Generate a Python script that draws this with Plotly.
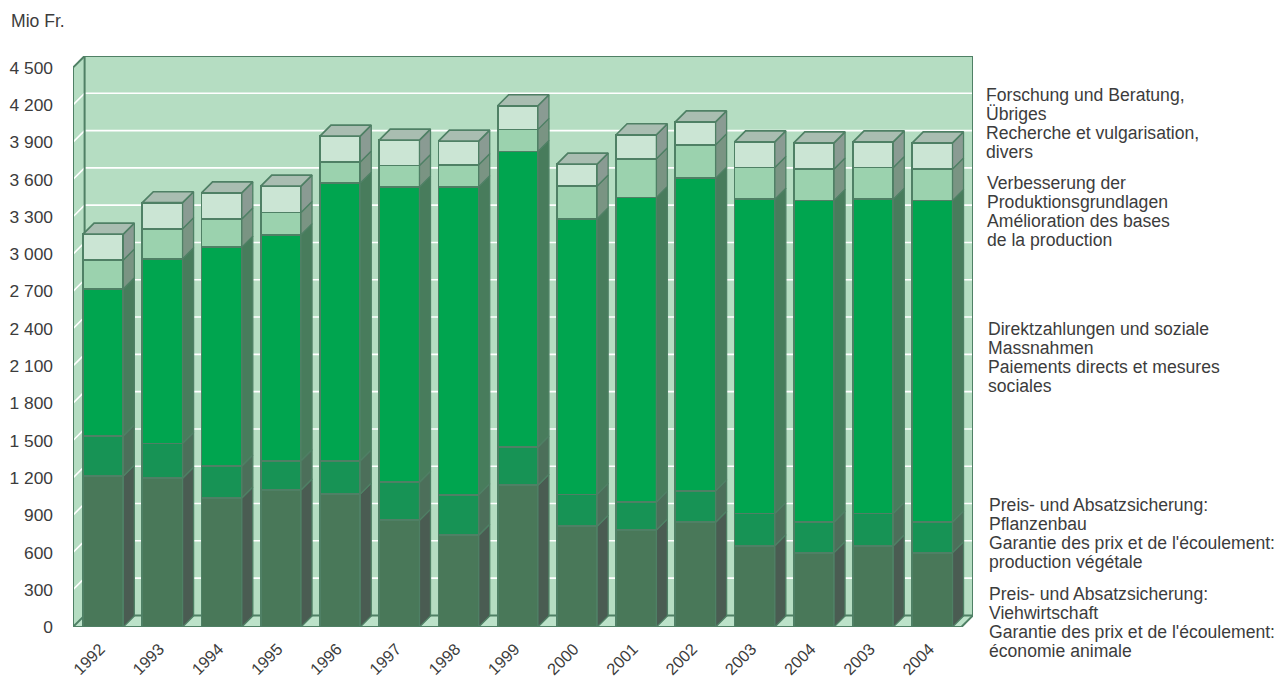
import plotly.graph_objects as go

# Budget categories along the horizontal axis
years = ["1992", "1993", "1994", "1995", "1996", "1997", "1998", "1999",
         "2000", "2001", "2002", "2003", "2004", "2003", "2004"]

# Spending per category in Mio Fr., bottom of the stack first
viehwirtschaft = [1215, 1196, 1038, 1102, 1070, 858, 738, 1140, 810, 780, 842, 654, 598, 654, 598]
pflanzenbau = [324, 281, 257, 236, 268, 306, 326, 308, 257, 225, 254, 260, 247, 260, 247]
direktzahlungen = [1182, 1485, 1761, 1817, 2233, 2375, 2477, 2378, 2217, 2451, 2515, 2528, 2587, 2528, 2587]
verbesserung = [231, 242, 226, 180, 169, 174, 177, 177, 263, 311, 268, 255, 252, 255, 252]
forschung = [209, 209, 211, 212, 209, 204, 191, 190, 177, 193, 185, 206, 211, 206, 211]

series = [viehwirtschaft, pflanzenbau, direktzahlungen, verbesserung, forschung]
series_names = ["Viehwirtschaft", "Pflanzenbau", "Direktzahlungen", "Verbesserung", "Forschung"]
front_colors = ["#497859", "#179355", "#00A54F", "#9BD2AE", "#CBE5D4"]
side_colors = ["#4A5C52", "#4C6F5A", "#487C5C", "#7A9483", "#8A9B93"]
top_color = "#A9BDB1"

y_ticks = list(range(0, 4501, 300))
y_labels = [f"{v:,}".replace(",", " ") for v in y_ticks]

legend_blocks = [
    (985, 95, ["Forschung und Beratung,", "Übriges", "Recherche et vulgarisation,", "divers"]),
    (986, 183, ["Verbesserung der", "Produktionsgrundlagen", "Amélioration des bases", "de la production"]),
    (987, 329, ["Direktzahlungen und soziale", "Massnahmen", "Paiements directs et mesures", "sociales"]),
    (988, 505, ["Preis- und Absatzsicherung:", "Pflanzenbau", "Garantie des prix et de l'écoulement:", "production végétale"]),
    (988, 594, ["Preis- und Absatzsicherung:", "Viehwirtschaft", "Garantie des prix et de l'écoulement:", "économie animale"]),
]

# Canvas and plot box in pixels; the axis ranges follow from the scales below
WIDTH, HEIGHT = 1279, 679
LEFT, RIGHT_EDGE, TOP, BOTTOM_EDGE = 73.3, 973, 56, 627
PX_PER_CATEGORY = 59.2
PX_PER_VALUE = 0.12433
WALL_DEPTH_PX = 11.6
BAR_DEPTH_PX = 11
BAR_WIDTH = 0.68
TEXT_COLOR = "#3C3C3C"
EDGE_COLOR = "#4F8065"
WALL_COLOR = "#B5DDC2"
FONT = "Liberation Sans, Arial, sans-serif"
LABEL_SIZE = 17.6
TICK_SIZE = 17.4
YEAR_SIZE = 16.4

n = len(years)
wall_dx = WALL_DEPTH_PX / PX_PER_CATEGORY
wall_dy = WALL_DEPTH_PX / PX_PER_VALUE
bar_dx = BAR_DEPTH_PX / PX_PER_CATEGORY
bar_dy = BAR_DEPTH_PX / PX_PER_VALUE
y_max = y_ticks[-1]
centers = [i + 0.51 for i in range(n)]


def poly_path(points):
    return "M " + " L ".join(f"{x},{y}" for x, y in points) + " Z"


def wall_shape(points, fill=WALL_COLOR):
    return dict(type="path", path=poly_path(points), xref="x", yref="y", layer="below",
                fillcolor=fill, line=dict(width=0))


def line_shape(x0, y0, x1, y1, color, width):
    return dict(type="line", x0=x0, y0=y0, x1=x1, y1=y1, xref="x", yref="y", layer="below",
                line=dict(color=color, width=width))


# Back wall, left wall and floor of the 3D box
shapes = [
    wall_shape([(wall_dx, wall_dy), (n + wall_dx, wall_dy), (n + wall_dx, y_max + wall_dy), (wall_dx, y_max + wall_dy)]),
    wall_shape([(0, 0), (wall_dx, wall_dy), (wall_dx, y_max + wall_dy), (0, y_max)]),
    wall_shape([(0, 0), (n, 0), (n + wall_dx, wall_dy), (wall_dx, wall_dy)], fill="#BCE2C9"),
]
# Gridlines run along the back wall and fold forward over the left wall
for v in y_ticks[1:-1]:
    shapes.append(line_shape(0, v, wall_dx, v + wall_dy, "white", 1.6))
    shapes.append(line_shape(wall_dx, v + wall_dy, n + wall_dx, v + wall_dy, "white", 1.6))
# Box edges
edges = [
    (0, 0, 0, y_max), (0, y_max, wall_dx, y_max + wall_dy),
    (wall_dx, wall_dy, wall_dx, y_max + wall_dy),
    (wall_dx, y_max + wall_dy, n + wall_dx, y_max + wall_dy),
    (n + wall_dx, wall_dy, n + wall_dx, y_max + wall_dy),
    (wall_dx, wall_dy, n + wall_dx, wall_dy),
    (0, 0, wall_dx, wall_dy), (n, 0, n + wall_dx, wall_dy), (0, 0, n, 0),
]
for x0, y0, x1, y1 in edges:
    shapes.append(line_shape(x0, y0, x1, y1, EDGE_COLOR, 2))

fig = go.Figure()

# Front faces are ordinary stacked bars
for name, values, color in zip(series_names, series, front_colors):
    fig.add_trace(go.Bar(x=centers, y=values, name=name, width=BAR_WIDTH, cliponaxis=False,
                         marker=dict(color=color, line=dict(color=EDGE_COLOR, width=1.7)),
                         hoverinfo="y+name"))

# Side faces of every stack segment, derived from the running totals
totals = [0] * n
for values, color in zip(series, side_colors):
    xs, ys = [], []
    for i in range(n):
        right = centers[i] + BAR_WIDTH / 2
        lo, hi = totals[i], totals[i] + values[i]
        xs += [right, right, right + bar_dx, right + bar_dx, right, None]
        ys += [lo, hi, hi + bar_dy, lo + bar_dy, lo, None]
        totals[i] = hi
    fig.add_trace(go.Scatter(x=xs, y=ys, mode="lines", fill="toself", fillcolor=color,
                             line=dict(color=EDGE_COLOR, width=1.3), hoverinfo="skip"))

# Top faces of the stacks
xs, ys = [], []
for i in range(n):
    left, right = centers[i] - BAR_WIDTH / 2, centers[i] + BAR_WIDTH / 2
    t = totals[i]
    xs += [left, right, right + bar_dx, left + bar_dx, left, None]
    ys += [t, t, t + bar_dy, t + bar_dy, t, None]
fig.add_trace(go.Scatter(x=xs, y=ys, mode="lines", fill="toself", fillcolor=top_color,
                         line=dict(color=EDGE_COLOR, width=1.7), hoverinfo="skip"))

plot_w = RIGHT_EDGE - LEFT
plot_h = BOTTOM_EDGE - TOP


def text_note(text, px, py):
    return dict(text=text, x=(px - LEFT) / plot_w, y=(BOTTOM_EDGE - py) / plot_h,
                xref="paper", yref="paper", xanchor="left", yanchor="middle",
                showarrow=False, align="left", xshift=-1,
                font=dict(family=FONT, size=LABEL_SIZE, color=TEXT_COLOR))


annotations = [text_note("Mio Fr.", 10, 21)]
for px, py, lines in legend_blocks:
    for k, line in enumerate(lines):
        annotations.append(text_note(line, px, py + k * 19))

fig.update_layout(
    width=WIDTH, height=HEIGHT, autosize=False,
    margin=dict(l=LEFT, r=WIDTH - RIGHT_EDGE, t=TOP, b=HEIGHT - BOTTOM_EDGE, pad=0),
    paper_bgcolor="white", plot_bgcolor="white",
    barmode="stack", showlegend=False, shapes=shapes, annotations=annotations,
    font=dict(family=FONT, size=TICK_SIZE, color=TEXT_COLOR),
    xaxis=dict(range=[0, n + wall_dx], tickmode="array", tickvals=centers, ticktext=years,
               tickangle=-45, showgrid=False, zeroline=False, showline=False, automargin=False,
               ticks="outside", ticklen=5, tickcolor="rgba(0,0,0,0)", ticklabelshift=-3,
               tickfont=dict(family=FONT, size=YEAR_SIZE, color=TEXT_COLOR)),
    yaxis=dict(range=[0, y_max + wall_dy], tickmode="array", tickvals=y_ticks, ticktext=y_labels,
               showgrid=False, zeroline=False, showline=False, automargin=False,
               ticks="outside", ticklen=15.5, tickcolor="rgba(0,0,0,0)",
               tickfont=dict(family=FONT, size=TICK_SIZE, color=TEXT_COLOR)),
)

fig.write_html("out.html", config=dict(displayModeBar=False))
